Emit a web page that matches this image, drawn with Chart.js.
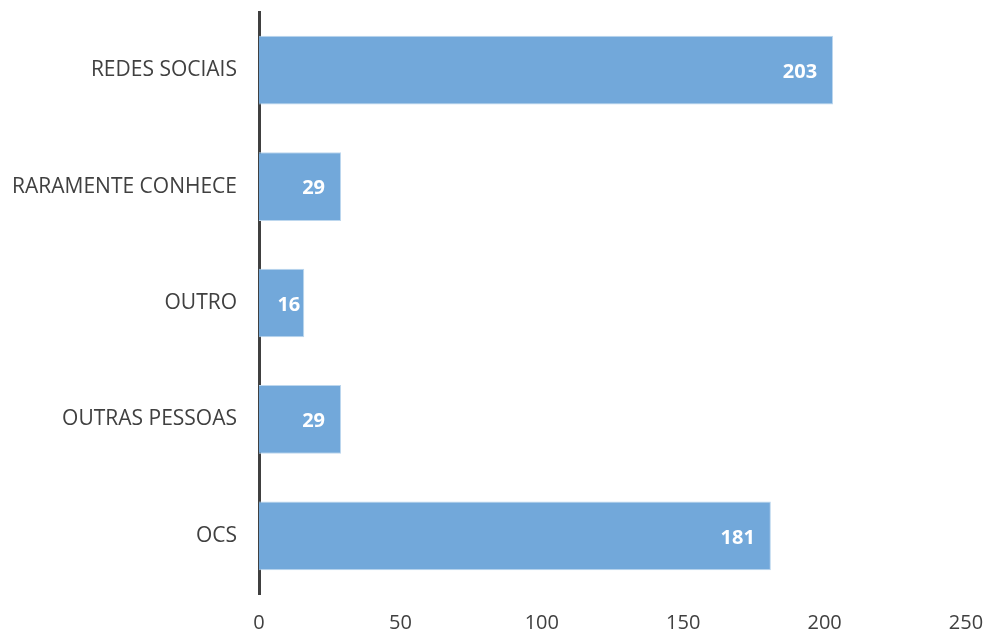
<!DOCTYPE html>
<html>
<head>
<meta charset="utf-8">
<script src="https://cdn.jsdelivr.net/npm/chart.js@4.4.1/dist/chart.umd.min.js"></script>
<style>
    html, body { margin: 0; padding: 0; background: #ffffff; }
    #wrap { width: 988px; height: 635px; position: relative; }
</style>
</head>
<body>
<div id="wrap"><canvas id="bar-chart"></canvas></div>
<script>
const categories = ['REDES SOCIAIS', 'RARAMENTE CONHECE', 'OUTRO', 'OUTRAS PESSOAS', 'OCS']
const values = [203, 29, 16, 29, 181]
const xTicks = [0, 50, 100, 150, 200, 250]

// white bold numbers inside the end of each bar
const valueLabels = {
    id: 'valueLabels',
    afterDatasetsDraw(chart) {
        const ctx = chart.ctx
        const meta = chart.getDatasetMeta(0)
        ctx.save()
        ctx.font = 'bold 20px "Open Sans"'
        ctx.fillStyle = '#ffffff'
        ctx.textBaseline = 'middle'
        ctx.textAlign = 'right'
        meta.data.forEach((bar, i) => {
            const text = String(values[i])
            const w = ctx.measureText(text).width
            let right = bar.x - 16
            if (right - w < bar.base + 14) {
                right = bar.x - 4
            }
            ctx.fillText(text, right, bar.y + 2)
        })
        ctx.restore()
    }
}

new Chart(document.getElementById('bar-chart'), {
    type: 'bar',
    data: {
        labels: categories,
        datasets: [{
            data: values,
            backgroundColor: '#72A8DA',
            borderColor: '#BDD7EE',
            borderWidth: 1,
            barPercentage: 0.59,
            categoryPercentage: 1
        }]
    },
    options: {
        indexAxis: 'y',
        responsive: true,
        maintainAspectRatio: false,
        animation: false,
        layout: {
            padding: {top: 12, right: 22, bottom: 0, left: 0}
        },
        plugins: {
            legend: {display: false},
            tooltip: {enabled: false}
        },
        scales: {
            x: {
                min: 0,
                max: 250,
                afterBuildTicks: (scale) => {
                    scale.ticks = xTicks.map(v => ({value: v}))
                },
                afterFit: (scale) => {
                    scale.height = 41
                    scale.paddingLeft = 0
                    scale.paddingRight = 0
                    scale.paddingTop = 0
                    scale.paddingBottom = 0
                },
                grid: {display: false, drawTicks: false},
                border: {display: false},
                ticks: {
                    color: '#404040',
                    font: {family: 'Open Sans', size: 20},
                    padding: 17
                }
            },
            y: {
                grid: {display: false, drawTicks: false},
                border: {display: true, color: '#404040', width: 3},
                afterFit: (scale) => {
                    scale.width = 259
                    scale.paddingLeft = 0
                    scale.paddingRight = 0
                    scale.paddingTop = 0
                    scale.paddingBottom = 0
                },
                ticks: {
                    color: '#404040',
                    font: {family: 'Open Sans', size: 21},
                    padding: 22
                }
            }
        }
    },
    plugins: [valueLabels]
})
</script>
</body>
</html>
